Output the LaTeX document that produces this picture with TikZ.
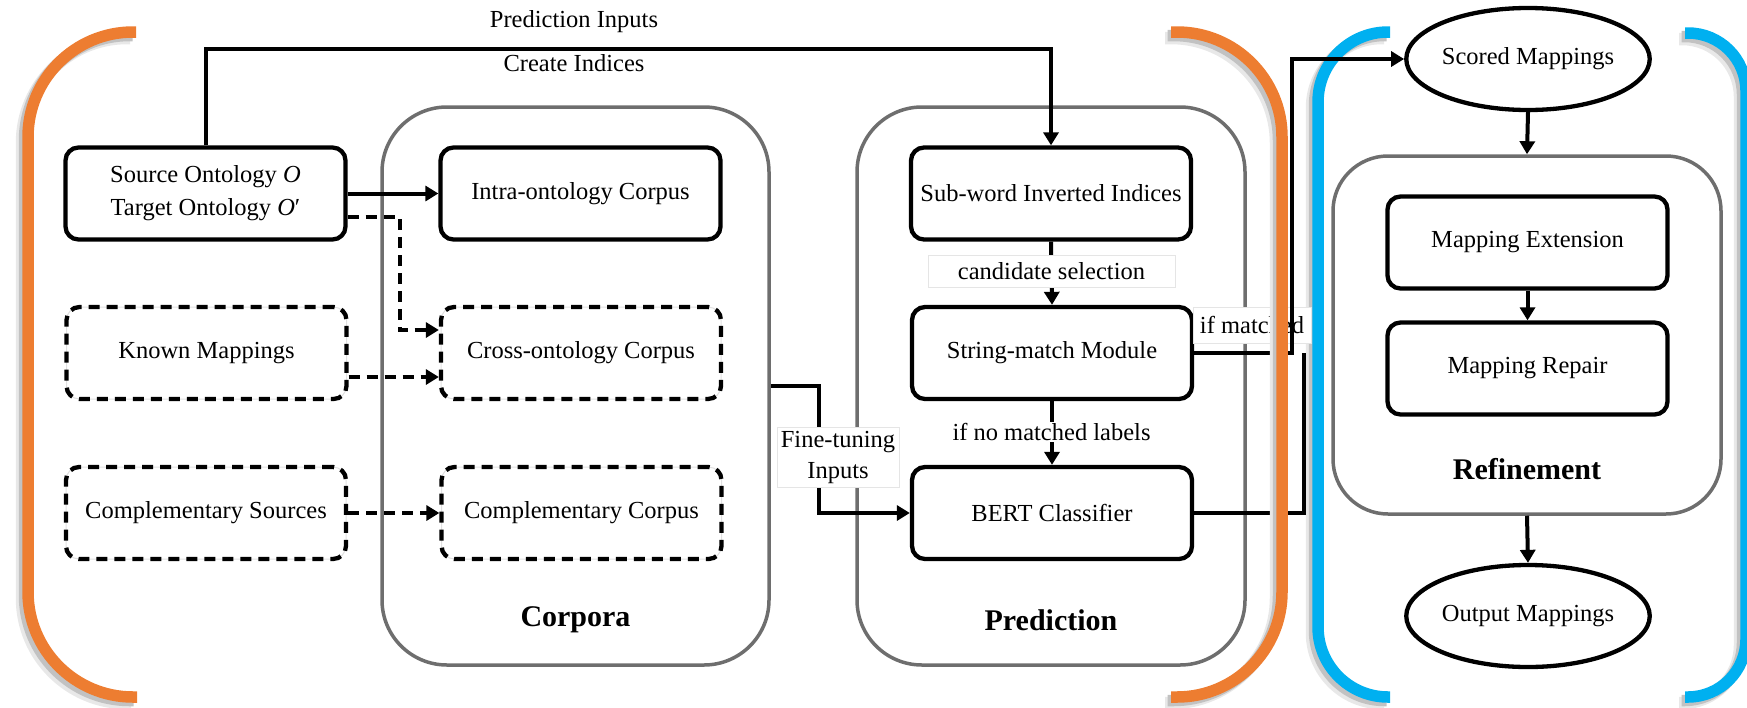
\documentclass[tikz,border=0pt]{standalone}
\usepackage{fontspec}
\setmainfont{Liberation Serif}
\usetikzlibrary{arrows.meta,shapes.geometric}
\definecolor{brOrange}{HTML}{ED7D31}
\definecolor{brBlue}{HTML}{00B0F0}
\definecolor{frameGray}{HTML}{6E6E6E}
% a thick bracket with a soft drop shadow: colour, corner radius, path
\newcommand\drawbracket[3]{%
  \draw[line width=12.5pt, black!9, rounded corners=#2, xshift=-6pt, yshift=-6pt] #3;
  \draw[line width=11.5pt, black!24, rounded corners=#2, xshift=-3.5pt, yshift=-3.5pt] #3;
  \draw[line width=11.5pt, #1, rounded corners=#2] #3;}
\begin{document}
\begin{tikzpicture}[x=1pt,y=-1pt,
  txt/.style={font=\fontsize{24.5}{33}\selectfont},
  stagebox/.style={draw, line width=4.3pt, rounded corners=13pt, minimum width=280pt,
    minimum height=92pt, inner sep=0pt, align=center, txt},
  optbox/.style={stagebox, dash pattern=on 11pt off 7pt,
    preaction={draw=black!12, line width=1pt, solid}},
  container/.style={draw=frameGray, line width=3.5pt, rounded corners=65pt, inner sep=0pt},
  stageellipse/.style={draw, ellipse, line width=4.3pt, minimum width=225pt,
    minimum height=102pt, inner sep=0pt, txt},
  flow/.style={line width=4pt, -{Triangle[length=13pt,width=15pt]}},
  dflow/.style={flow, dash pattern=on 11pt off 7pt},
  plain/.style={line width=4pt},
  tag/.style={txt, fill=white, draw=black!10, line width=0.6pt, inner sep=0pt, align=center},
  title/.style={font=\fontsize{30}{36}\selectfont\bfseries},
]
\useasboundingbox (0,0) rectangle (1747,707);

% refinement brackets
\drawbracket{brBlue}{70pt}{(1390,32) -- (1318,32) -- (1318,697) -- (1390,697)}
\drawbracket{brBlue}{58pt}{(1685,33) -- (1746,33) -- (1746,697) -- (1685,697)}

% stage containers
\node[container, minimum width=387pt, minimum height=558pt] (corpora) at (575.5,386) {};
\node[container, minimum width=388pt, minimum height=558pt] (prediction) at (1051,386) {};
\node[container, rounded corners=55pt, minimum width=388pt, minimum height=358pt] (refinement) at (1527,335) {};
\node[title] (corporaT) at (575.5,620) {Corpora};
\node[title] (predictionT) at (1051,620) {Prediction};
\node[title] (refinementT) at (1527,469) {Refinement};

% inputs
\node[stagebox] (src) at (205.5,193.5) {Source Ontology {\itshape O}\\Target Ontology {\itshape O}′};
\node[optbox] (known) at (206.5,353) {Known Mappings};
\node[optbox] (compsrc) at (206,513) {Complementary Sources};

% corpora
\node[stagebox] (intra) at (580.5,193.5) {Intra-ontology Corpus};
\node[optbox] (cross) at (581,353) {Cross-ontology Corpus};
\node[optbox] (compcorp) at (581.5,513) {Complementary Corpus};

% prediction
\node[stagebox] (subword) at (1051,193.5) {Sub-word Inverted Indices};
\node[stagebox] (strmatch) at (1052,353) {String-match Module};
\node[stagebox] (bert) at (1052,513) {BERT Classifier};

% refinement
\node[stageellipse] (scored) at (1528,59) {Scored Mappings};
\node[stagebox] (mapext) at (1527.5,242.5) {Mapping Extension};
\node[stagebox] (maprep) at (1527.5,368.5) {Mapping Repair};
\node[stageellipse] (output) at (1528,616) {Output Mappings};

% connectors
\coordinate (indexbend) at (1051,49);
\draw[flow] (src.north) |- (indexbend) -- (subword.north);
\node[txt] (predin) at (574,22) {Prediction Inputs};
\node[txt] (createidx) at (574,63) {Create Indices};

\draw[flow] (src.east) -- (intra.west);
\draw[dflow] ([yshift=-23.5pt]src.east) -- ++(52,0) |- ([yshift=23pt]cross.west);
\draw[dflow] ([yshift=-24pt]known.east) -- ([yshift=-24pt]cross.west);
\draw[dflow] (compsrc.east) -- (compcorp.west);

\draw[flow] (corpora.east) -- ++(48,0) |- (bert.west);
\node[tag, minimum width=122pt, minimum height=60pt, font=\fontsize{24.5}{31}\selectfont] (finetune) at (838,457) {Fine-tuning\\Inputs};

\draw[flow] (subword.south) -- (strmatch.north);
\node[tag, minimum width=247pt, minimum height=32pt] (candsel) at (1051.5,271) {candidate selection};
\draw[flow] (strmatch.south) -- (bert.north);
\node[txt, fill=white, inner sep=1pt] (nomatch) at (1051.5,432) {if no matched labels};

\node[tag, minimum width=118pt, minimum height=36pt] (matched) at (1252,325) {if matched};
\coordinate (junction) at ([xshift=110pt]strmatch.east);
\draw[flow] (strmatch.east) -| ([xshift=-112.5pt]scored.west) -- (scored.west);
\draw[plain] (bert.east) -| (junction);

\draw[flow] (scored.south) -- (refinement.north);
\draw[flow] (mapext.south) -- (maprep.north);
\draw[flow] (refinement.south) -- (output.north);

% pre-processing / prediction brackets
\drawbracket{brOrange}{105pt}{(136,32) -- (28,32) -- (28,697) -- (137,697)}
\drawbracket{brOrange}{105pt}{(1171,32) -- (1282,32) -- (1282,697) -- (1171,697)}
\end{tikzpicture}
\end{document}
